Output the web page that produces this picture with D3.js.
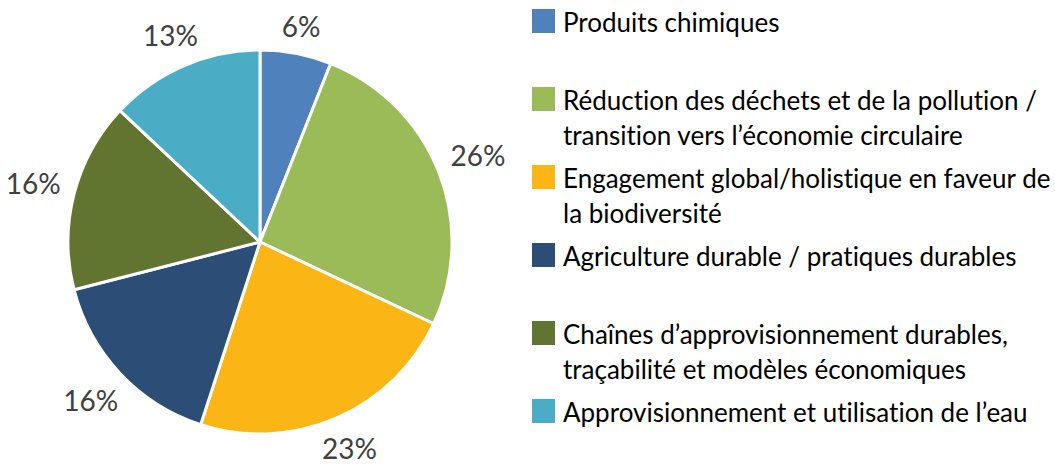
<!DOCTYPE html>
<html><head><meta charset="utf-8">
<script src="https://cdn.jsdelivr.net/npm/d3@7"></script>
<style>html,body{margin:0;padding:0;background:#fff;}svg{display:block;}text{font-variant-ligatures:none;font-feature-settings:"liga" 0,"clig" 0;}</style>
</head><body>
<svg id="chart" width="1055" height="468"></svg>
<script>
const categories = [
  "Produits chimiques",
  "Réduction des déchets et de la pollution / transition vers l’économie circulaire",
  "Engagement global/holistique en faveur de la biodiversité",
  "Agriculture durable / pratiques durables",
  "Chaînes d’approvisionnement durables, traçabilité et modèles économiques",
  "Approvisionnement et utilisation de l’eau"
];
const legendLines = [
  ["Produits chimiques"],
  ["Réduction des déchets et de la pollution /", "transition vers l’économie circulaire"],
  ["Engagement global/holistique en faveur de", "la biodiversité"],
  ["Agriculture durable / pratiques durables"],
  ["Chaînes d’approvisionnement durables,", "traçabilité et modèles économiques"],
  ["Approvisionnement et utilisation de l’eau"]
];
const values = [6, 26, 23, 16, 16, 13];
const valueLabels = ["6%", "26%", "23%", "16%", "16%", "13%"];
const colors = ["#4F81BD", "#9BBB59", "#FBB615", "#2C4D75", "#617530", "#4BACC6"];

const svg = d3.select("#chart");
const cx = 260, cy = 242, r = 192;
const font = "Lato, 'Open Sans', sans-serif";

const pie = d3.pie().sort(null).value(d => d)(values);
const arc = d3.arc().innerRadius(0).outerRadius(r);
const color = d3.scaleOrdinal().domain(d3.range(values.length)).range(colors);

const g = svg.append("g").attr("transform", `translate(${cx},${cy})`);
g.selectAll("path").data(pie).join("path")
  .attr("d", arc)
  .attr("fill", (d, i) => color(i))
  .attr("stroke", "#fff")
  .attr("stroke-width", 3)
  .attr("stroke-linejoin", "round");

// labels outside end
const labelFont = 28;
const gap = 13;
const lbl = g.selectAll("text.lbl").data(pie).join("text")
  .attr("class", "lbl")
  .attr("font-family", font)
  .attr("font-size", labelFont)
  .attr("fill", "#404040")
  .attr("text-anchor", "middle")
  .text((d, i) => valueLabels[i]);
lbl.each(function(d) {
  const bb = this.getBBox();
  const w = bb.width, h = 21;
  const a = (d.startAngle + d.endAngle) / 2;
  const s = Math.sin(a), c = -Math.cos(a);
  const ext = Math.abs(s) * w / 2 + Math.abs(c) * h / 2;
  const R = r + gap + ext;
  const x = s * R, y = c * R;
  d3.select(this).attr("x", x).attr("y", y + h / 2);
});

// legend
const legendX = 532, textX = 563, firstBase = 32, slot = 78, lineH = 35, sw = 23;
const lg = svg.append("g");
const item = lg.selectAll("g").data(legendLines).join("g")
  .attr("transform", (d, i) => `translate(0,${firstBase + i * slot})`);
item.append("rect")
  .attr("x", legendX).attr("y", -23).attr("width", sw).attr("height", 24)
  .attr("fill", (d, i) => color(i));
item.each(function(lines) {
  const t = d3.select(this).append("text")
    .attr("font-family", font).attr("font-size", 26).attr("fill", "#000");
  lines.forEach((ln, k) => t.append("tspan").attr("x", textX).attr("y", k * lineH).text(ln));
});
</script>
</body></html>
